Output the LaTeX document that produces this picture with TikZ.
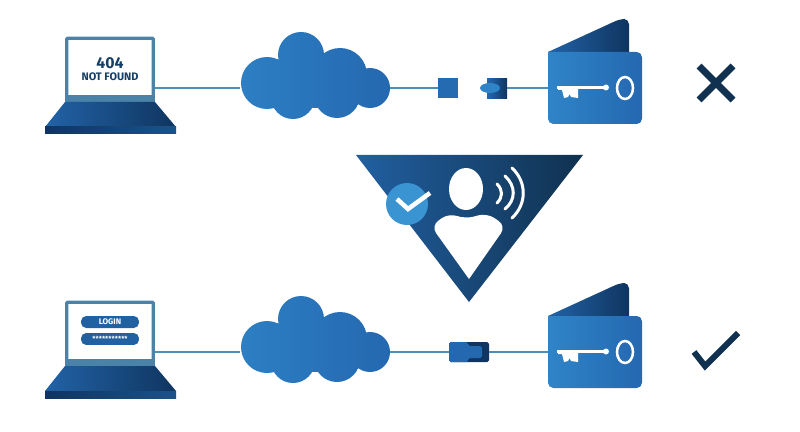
\documentclass[tikz,border=0pt]{standalone}
\usepackage{fontspec}
\setmainfont{Fira Sans}
\usetikzlibrary{calc}
\definecolor{navy}{HTML}{10314F}
\definecolor{deepblue}{HTML}{0F3560}
\definecolor{midblue}{HTML}{2468B0}
\definecolor{lightblue}{HTML}{2F84C8}
\definecolor{linkblue}{HTML}{4C8FB5}
\definecolor{badgeblue}{HTML}{3A94D2}
\definecolor{framecol}{HTML}{4A82A8}
\begin{document}
\begin{tikzpicture}[
		x=0.02cm, y=-0.02cm,
		link/.style={draw=linkblue, line width=0.055cm},
		screen/.style={draw=framecol, fill=white, line width=0.065cm, rounded corners=0.5pt, minimum width=1.73cm, minimum height=1.17cm, inner sep=0},
		anchorbox/.style={inner sep=0, minimum width=#1},
		keypart/.style={draw=white, line width=0.05cm},
		pill/.style={fill=midblue!85!navy, rounded corners=3pt, minimum width=1.16cm, minimum height=0.24cm, inner sep=0, text=white, font=\bfseries\fontsize{4.6}{5}\selectfont},
		resultmark/.style={draw=navy, line width=0.14cm},
		voice/.style={draw=white, line width=0.06cm, line cap=round}
		]
		\useasboundingbox (0,0) rectangle (800,432);

		\foreach \r/\dy in {0/0,1/264}{
			\fill[framecol] (65,{95+\dy}) rectangle (155,{103+\dy});
			\node[screen](S\r) at (110,{67.5+\dy}){};
			\shade[left color=midblue!90!navy, right color=deepblue] (65,{102+\dy}) -- (155,{102+\dy}) -- (176,{127+\dy}) -- (45,{127+\dy}) -- cycle;
			\shade[left color=deepblue, right color=midblue!60!navy] (45,{127+\dy}) rectangle (176,{134+\dy});
			\shade[left color=lightblue!80!midblue, right color=midblue] (267,{83+\dy}) circle (26) (301,{55+\dy}) circle (23) (340,{75+\dy}) circle (27) (370,{88+\dy}) circle (20) (293,{97+\dy}) circle (22) (337,{95+\dy}) circle (23) (315,{82+\dy}) circle (26);
			\node[anchorbox=3cm, minimum height=1.2cm](C\r) at (315,{88+\dy}){};
			\shade[shading angle=-60, left color=midblue!90!navy, right color=deepblue] (548,{52+\dy}) [rounded corners=3pt] -- (620,{19+\dy}) -- (629,{19+\dy}) [sharp corners] -- (629,{53+\dy}) -- (548,{53+\dy}) -- cycle;
			\shade[shading angle=-45, left color=lightblue, right color=midblue] (548,{52+\dy}) [rounded corners=3pt] -- (642,{52+\dy}) -- (642,{124+\dy}) -- (548,{124+\dy}) [sharp corners] -- cycle;
			\node[anchorbox=1.88cm, minimum height=1.44cm](W\r) at (595,{88+\dy}){};
			\draw[keypart] (557,{87.5+\dy}) -- (607,{87.5+\dy});
			\draw[keypart] (625,{88+\dy}) ellipse (8 and 11);
			\fill[white] (606,{87.5+\dy}) circle (3);
			\fill[white] (558,{86+\dy}) -- (578,{87+\dy}) -- (578,{98+\dy}) -- (571,{97+\dy}) -- (569.5,{94+\dy}) -- (568,{97+\dy}) -- (564,{98+\dy}) -- (562,{90+\dy}) -- (558,{90+\dy}) -- cycle;
			\draw[link] (C\r.west) -- (C\r.west -| S\r.east);
		}

		\node[font=\bfseries\fontsize{9}{10}\selectfont, text=navy!75!midblue](E0) at (110,63){404};
		\node[font=\bfseries\fontsize{6.2}{7}\selectfont, text=navy!75!midblue](E1) at (110,77){NOT FOUND};
		\node[fill=midblue!90!lightblue, minimum size=0.4cm, inner sep=0](Q0) at (448,88){};
		\shade[left color=midblue, right color=deepblue] (487,79) rectangle (507,99);
		\node[anchorbox=0.4cm, minimum height=0.4cm](P0) at (497,88){};
		\fill[lightblue] (490,88) ellipse (10 and 5);
		\draw[link] (C0) -- (Q0);
		\draw[link] (P0) -- (W0);

		\node[pill](G0) at (110,322){LOGIN};
		\node[pill, below of = G0, yshift = 0.66cm](G1){\fontsize{4}{4}\selectfont ***********};
		\node[fill=deepblue, rounded corners=1pt, minimum width=0.8cm, minimum height=0.4cm, inner sep=0](P1) at (469,352){};
		\fill[midblue, rounded corners=1pt] (449,342) -- (468,342) -- (468,346) -- (482,346) -- (482,358) -- (468,358) -- (468,362) -- (449,362) -- cycle;
		\draw[link] (C1) -- (P1);
		\draw[link] (P1) -- (W1);

		\shade[left color=midblue!85!navy, middle color=navy!75!midblue, right color=navy] (356,155) -- (583,155) -- (469,302) -- cycle;
		\fill[white] (466,189) ellipse (17 and 21);
		\fill[white] (469,279) [rounded corners=5pt] -- (431,226) -- (449,213) -- (465,219) -- (487,213) -- (506,226) [sharp corners] -- cycle;
		\draw[voice] (497,184) .. controls (503,190) and (503,197) .. (497,203);
		\draw[voice] (505,176) .. controls (516,186) and (516,200) .. (505,209);
		\draw[voice] (512,168) .. controls (527,182) and (527,204) .. (512,218);
		\node[circle, fill=badgeblue, minimum size=0.84cm, inner sep=0](B0) at (407,204){};
		\draw[draw=white, line width=0.09cm] (397,199) -- (408,209) -- (430,193);

		\draw[resultmark] (699,66) -- (733,100);
		\draw[resultmark] (733,66) -- (699,100);
		\draw[resultmark, line width=0.12cm] (694,352) -- (705,366) -- (738,333);
	\end{tikzpicture}
\end{document}
